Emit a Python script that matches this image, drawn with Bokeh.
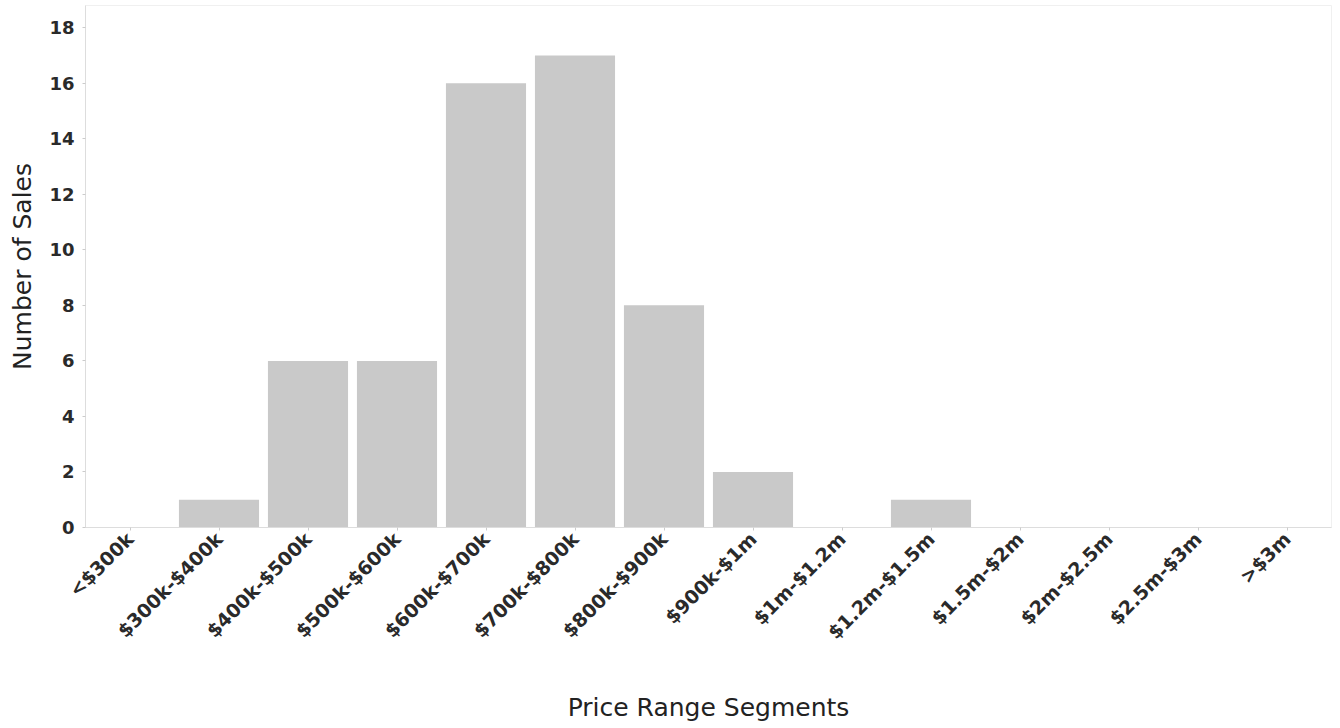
from bokeh.plotting import figure
from bokeh.embed import file_html
from bokeh.resources import INLINE
from bokeh.models import ColumnDataSource, FixedTicker
import math

categories = ["<$300k", "$300k-$400k", "$400k-$500k", "$500k-$600k", "$600k-$700k",
              "$700k-$800k", "$800k-$900k", "$900k-$1m", "$1m-$1.2m", "$1.2m-$1.5m",
              "$1.5m-$2m", "$2m-$2.5m", "$2.5m-$3m", ">$3m"]
sales = [0, 1, 6, 6, 16, 17, 8, 2, 0, 1, 0, 0, 0, 0]
y_ticks = [0, 2, 4, 6, 8, 10, 12, 14, 16, 18]

src = ColumnDataSource(dict(cat=categories, n=sales))

p = figure(x_range=categories, y_range=(0, 18.8), width=1336, height=724,
           output_backend="svg", toolbar_location=None,
           min_border_left=85, min_border_right=5, min_border_top=5, min_border_bottom=195)
p.vbar(x="cat", top="n", width=0.9, source=src, fill_color="#c9c9c9", line_color=None)

p.xgrid.grid_line_color = None
p.ygrid.grid_line_color = None
p.outline_line_color = "#f0f0f0"

for ax in (p.xaxis, p.yaxis):
    ax.axis_line_color = "#dddddd"
    ax.major_tick_line_color = "#cccccc"
    ax.minor_tick_line_color = None
    ax.major_tick_out = 3
    ax.major_tick_in = 0
    ax.major_label_text_font = "DejaVu Sans"
    ax.major_label_text_font_style = "bold"
    ax.major_label_text_color = "#2a2a2a"
    ax.axis_label_text_font = "DejaVu Sans"
    ax.axis_label_text_font_size = "25px"
    ax.axis_label_text_font_style = "normal"
    ax.axis_label_text_color = "#222222"

p.yaxis.major_label_text_font_size = "18px"
p.xaxis.major_label_text_font_size = "19px"
p.yaxis.ticker = FixedTicker(ticks=y_ticks)
p.yaxis.axis_label = "Number of Sales"
p.yaxis.axis_label_standoff = 9
p.yaxis.major_label_standoff = 8
p.xaxis.axis_label = "Price Range Segments"
p.xaxis.major_label_orientation = math.pi / 4
p.xaxis.axis_label_standoff = 39

open("out.html", "w").write(file_html(p, INLINE))
